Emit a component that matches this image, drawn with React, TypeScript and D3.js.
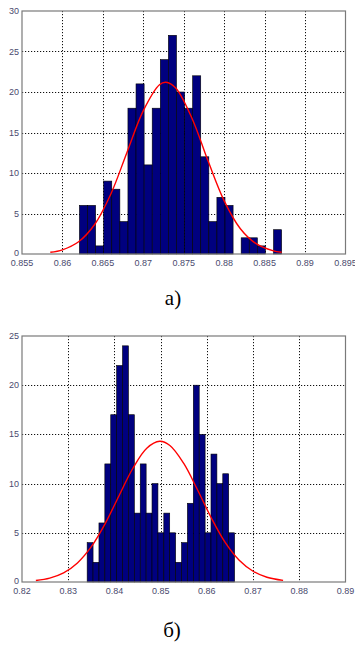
import * as d3 from 'd3'

// histogram a) — 25 bins
const topBinStart = 0.8621
const topBinWidth = 0.001
const topCounts = [6, 6, 1, 9, 8, 4, 18, 21, 11, 18, 24, 27, 20, 18, 22, 12, 4, 7, 6, 0, 2, 2, 1, 0, 3]
const topCurveX = [0.8585, 0.86, 0.862, 0.864, 0.866, 0.868, 0.87, 0.872, 0.8728, 0.874, 0.876, 0.878, 0.88, 0.882, 0.884, 0.886, 0.8871]
const topCurveY = [0.21, 0.52, 1.51, 3.67, 7.44, 12.6, 17.7, 20.9, 21.2, 20.5, 16.8, 11.5, 6.56, 3.12, 1.24, 0.41, 0.21]
const topXTicks = [0.855, 0.86, 0.865, 0.87, 0.875, 0.88, 0.885, 0.89, 0.895]
const topYTicks = [0, 5, 10, 15, 20, 25, 30]

// histogram б) — 25 bins
const botBinStart = 0.8341
const botBinWidth = 0.001276
const botCounts = [4, 2, 6, 12, 17, 22, 24, 17, 7, 12, 7, 10, 5, 7, 5, 2, 4, 8, 20, 15, 5, 13, 10, 11, 5]
const botCurveX = [0.823, 0.826, 0.829, 0.832, 0.835, 0.838, 0.841, 0.844, 0.847, 0.8498, 0.852, 0.855, 0.858, 0.861, 0.864, 0.867, 0.87, 0.873, 0.8765]
const botCurveY = [0.15, 0.4, 0.93, 1.94, 3.59, 5.94, 8.77, 11.56, 13.6, 14.3, 13.87, 12.05, 9.35, 6.48, 4.0, 2.21, 1.09, 0.48, 0.16]
const botXTicks = [0.82, 0.83, 0.84, 0.85, 0.86, 0.87, 0.88, 0.89]
const botYTicks = [0, 5, 10, 15, 20, 25]

const labelColor = '#4a4a6e'

interface HistProps {
  top: number
  bottom: number
  binStart: number
  binWidth: number
  counts: number[]
  curveX: number[]
  curveY: number[]
  xTicks: number[]
  yTicks: number[]
  xFmt: (v: number) => string
}

function Hist({ top, bottom, binStart, binWidth, counts, curveX, curveY, xTicks, yTicks, xFmt }: HistProps) {
  const left = 22
  const right = 345.5
  const x = d3.scaleLinear().domain([xTicks[0], xTicks[xTicks.length - 1]]).range([left, right])
  const y = d3.scaleLinear().domain([0, yTicks[yTicks.length - 1]]).range([bottom, top])
  const px = (v: number) => Math.round(v) + 0.5

  const line = d3.line<number>()
    .x((_, i) => x(curveX[i]))
    .y(d => y(d))
    .curve(d3.curveCatmullRom)

  return (
    <g>
      <rect x={left} y={top} width={right - left} height={bottom - top} fill="#fff" />
      {/* grid */}
      {xTicks.slice(1, -1).map(t => (
        <line key={'gx' + t} x1={px(x(t))} x2={px(x(t))} y1={top} y2={bottom}
          stroke="#111" strokeWidth={1} strokeDasharray="1.2,1.8" />
      ))}
      {yTicks.slice(1, -1).map(t => (
        <line key={'gy' + t} x1={left} x2={right} y1={px(y(t))} y2={px(y(t))}
          stroke="#111" strokeWidth={1} strokeDasharray="1.2,1.8" />
      ))}
      {/* bars */}
      {counts.map((c, i) => c > 0 && (
        <rect key={'b' + i}
          x={x(binStart + i * binWidth)}
          y={y(c)}
          width={x(binStart + (i + 1) * binWidth) - x(binStart + i * binWidth)}
          height={y(0) - y(c)}
          fill="#00007f" stroke="#000" strokeWidth={0.6} />
      ))}
      <path d={line(curveY) ?? ''} fill="none" stroke="#ff0000" strokeWidth={1.4} />
      <rect x={left} y={top} width={right - left} height={bottom - top}
        fill="none" stroke="#7a7a7a" strokeWidth={1.2} />
      {/* tick labels */}
      {xTicks.map(t => (
        <text key={'tx' + t} x={x(t)} y={bottom + 11.5} textAnchor="middle"
          fontFamily="Liberation Sans, Arial, sans-serif" fontSize={9} fill={labelColor}>
          {xFmt(t)}
        </text>
      ))}
      {yTicks.map(t => (
        <text key={'ty' + t} x={left - 3} y={y(t) + (t === 0 ? 1.5 : 3)} textAnchor="end"
          fontFamily="Liberation Sans, Arial, sans-serif" fontSize={9} fill={labelColor}>
          {t}
        </text>
      ))}
    </g>
  )
}

export default function App() {
  return (
    <svg width={355} height={646} style={{ position: 'absolute', left: 0, top: 0, background: '#fff' }}>
      <rect width={355} height={646} fill="#fff" />
      <Hist top={11} bottom={254} binStart={topBinStart} binWidth={topBinWidth} counts={topCounts}
        curveX={topCurveX} curveY={topCurveY} xTicks={topXTicks} yTicks={topYTicks}
        xFmt={d3.format('.3~f')} />
      <text x={173} y={305} textAnchor="middle" fontFamily="Liberation Serif, Times New Roman, serif" fontSize={21} fill="#000">а)</text>
      <Hist top={336} bottom={582} binStart={botBinStart} binWidth={botBinWidth} counts={botCounts}
        curveX={botCurveX} curveY={botCurveY} xTicks={botXTicks} yTicks={botYTicks}
        xFmt={d3.format('.2f')} />
      <text x={172} y={637} textAnchor="middle" fontFamily="Liberation Serif, Times New Roman, serif" fontSize={21} fill="#000">б)</text>
    </svg>
  )
}
